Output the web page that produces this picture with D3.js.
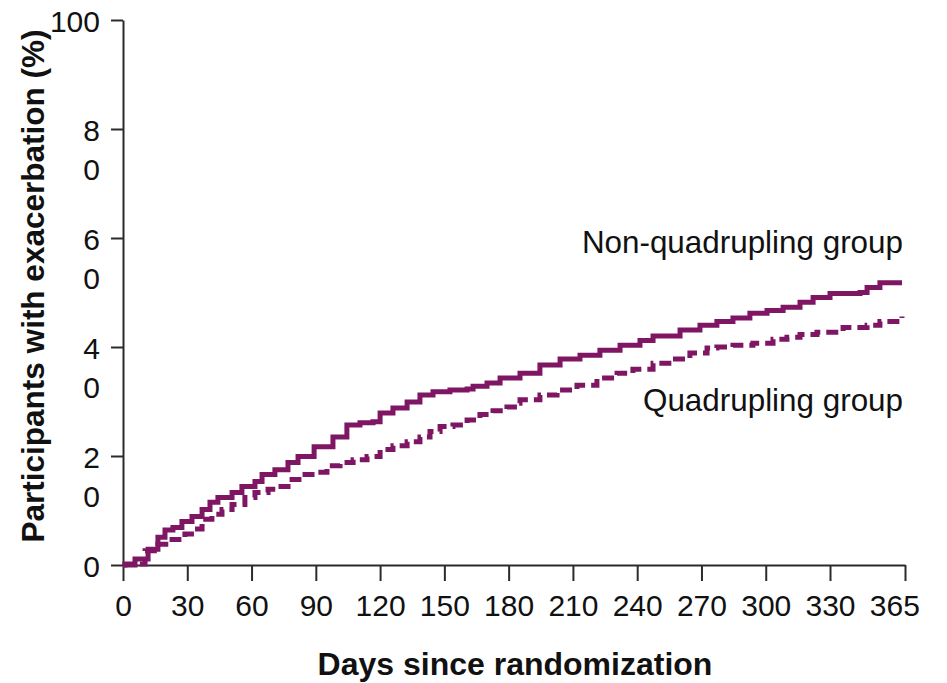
<!DOCTYPE html>
<html>
<head>
<meta charset="utf-8">
<script src="https://cdn.jsdelivr.net/npm/d3@7"></script>
<style>
body { margin: 0; background: #fff; }
text { font-family: "Liberation Sans", Arial, sans-serif; }
</style>
</head>
<body>
<svg id="chart" width="947" height="683"></svg>
<script>
// axis ticks
const xTicks = [0, 30, 60, 90, 120, 150, 180, 210, 240, 270, 300, 330, 365];
const yTicks = [0, 20, 40, 60, 80, 100];
const yTickLabels = [["0"], ["2", "0"], ["4", "0"], ["6", "0"], ["8", "0"], ["100"]];

// non-quadrupling group (solid)
const nonQuadDays = [0, 5.6, 11.7, 16.3, 19.6, 23.3, 27.5, 32.2, 36.9, 40.6, 44.3, 50.9, 55.5, 61.6, 64.9,
    70.9, 77.0, 81.7, 89.2, 98.0, 104.5, 110.6, 116.7, 120.0, 126.0, 132.6, 138.6, 144.7, 152.6, 160.6,
    163.4, 169.9, 176.0, 185.3, 194.6, 204.0, 213.3, 222.6, 232.0, 241.3, 247.4, 260.0, 269.3, 277.2,
    284.7, 292.6, 300.6, 308.1, 316.0, 322.1, 330.0, 344.0, 347.3, 353.3, 363.6];
const nonQuadPct = [0, 1.1, 2.9, 5.1, 6.4, 6.9, 8.0, 8.9, 10.2, 11.5, 12.4, 13.3, 14.4, 15.3, 16.6,
    17.5, 18.8, 19.9, 21.7, 23.5, 25.7, 26.1, 26.3, 27.9, 28.8, 29.9, 31.2, 31.8, 32.1, 32.3,
    32.8, 33.4, 34.3, 35.2, 36.7, 37.8, 38.5, 39.4, 40.3, 41.2, 42.0, 43.1, 44.0, 44.7,
    45.3, 46.2, 46.7, 47.3, 48.2, 49.1, 49.8, 50.0, 50.9, 51.8, 51.8];

// quadrupling group (dashed)
const quadDays = [0, 0.9, 10.3, 16.3, 22.9, 28.9, 33.6, 36.9, 41.5, 46.2, 50.9, 56.9, 61.6, 67.7, 72.3,
    78.9, 83.5, 89.6, 95.2, 101.3, 107.4, 113.9, 120.0, 126.0, 132.6, 138.6, 143.3, 148.0, 154.0,
    160.6, 166.6, 172.7, 179.2, 183.9, 185.3, 194.6, 202.6, 211.9, 221.2, 230.6, 238.0, 247.4,
    256.7, 264.6, 272.6, 277.2, 284.7, 294.0, 303.4, 309.9, 316.0, 323.9, 333.3, 336.1, 347.3,
    353.3, 362.7, 363.6];
const quadPct = [0, 0.2, 2.6, 3.8, 4.7, 5.7, 6.6, 8.4, 9.3, 10.2, 11.1, 12.4, 13.3, 13.9, 14.4,
    15.7, 16.6, 17.0, 18.2, 18.8, 19.3, 19.9, 21.2, 21.9, 22.6, 23.5, 24.5, 25.4, 25.7,
    26.6, 27.6, 28.3, 29.0, 29.7, 30.3, 31.2, 32.1, 33.0, 34.3, 35.2, 35.9, 37.0,
    37.8, 38.9, 39.8, 40.0, 40.3, 40.7, 41.4, 41.8, 42.3, 42.7, 42.7, 43.6, 44.0,
    44.7, 45.3, 45.6];

const purple = "#7f1663";
const axisColor = "#2b2b2b";

const svg = d3.select("#chart");

const x = d3.scaleLinear().domain([0, 365]).range([123, 905]);
const y = d3.scaleLinear().domain([0, 100]).range([565, 20]);

// x axis
const gx = svg.append("g")
    .attr("transform", `translate(0,${y(0)})`)
    .call(d3.axisBottom(x).tickValues(xTicks).tickSize(16).tickPadding(14).tickSizeOuter(0));
gx.select(".domain").attr("stroke", axisColor).attr("stroke-width", 2);
gx.selectAll(".tick line").attr("stroke", axisColor).attr("stroke-width", 2);
gx.selectAll(".tick text")
    .attr("fill", "#111")
    .style("font-size", "30px");
// the last label sits a little left of its tick in the original
gx.selectAll(".tick text").filter(d => d === 365).attr("x", x(360) - x(365));

// y axis
const gy = svg.append("g")
    .attr("transform", `translate(${x(0)},0)`)
    .call(d3.axisLeft(y).tickValues(yTicks).tickSize(12).tickFormat("").tickSizeOuter(0));
gy.select(".domain").attr("stroke", axisColor).attr("stroke-width", 2);
gy.selectAll(".tick line").attr("stroke", axisColor).attr("stroke-width", 2);
gy.selectAll(".tick").each(function(d, i) {
    const t = d3.select(this).select("text")
        .attr("x", -23)
        .attr("dy", null)
        .attr("fill", "#111")
        .style("font-size", "30px")
        .attr("text-anchor", "end");
    yTickLabels[i].forEach((s, j) => {
        t.append("tspan")
            .attr("x", -23)
            .attr("y", 11 + j * 39)
            .text(s);
    });
});

// curves
const line = d3.line()
    .x(d => x(d[0]))
    .y(d => y(d[1]))
    .curve(d3.curveStepAfter);

svg.append("path")
    .datum(nonQuadDays.map((d, i) => [d, nonQuadPct[i]]))
    .attr("fill", "none")
    .attr("stroke", purple)
    .attr("stroke-width", 5)
    .attr("d", line);

svg.append("path")
    .datum(quadDays.map((d, i) => [d, quadPct[i]]))
    .attr("fill", "none")
    .attr("stroke", purple)
    .attr("stroke-width", 5)
    .attr("stroke-dasharray", "12,6")
    .attr("d", line);

// series labels
svg.append("text")
    .attr("x", 903).attr("y", 253)
    .attr("text-anchor", "end")
    .attr("fill", "#111")
    .style("font-size", "31.4px")
    .text("Non-quadrupling group");

svg.append("text")
    .attr("x", 903).attr("y", 411)
    .attr("text-anchor", "end")
    .attr("fill", "#111")
    .style("font-size", "31.4px")
    .text("Quadrupling group");

// axis titles
svg.append("text")
    .attr("x", 515).attr("y", 675)
    .attr("text-anchor", "middle")
    .attr("fill", "#111")
    .style("font-size", "32px")
    .style("font-weight", "bold")
    .text("Days since randomization");

svg.append("text")
    .attr("transform", "translate(44,286) rotate(-90)")
    .attr("text-anchor", "middle")
    .attr("fill", "#111")
    .style("font-size", "31.5px")
    .style("font-weight", "bold")
    .text("Participants with exacerbation (%)");
</script>
</body>
</html>
